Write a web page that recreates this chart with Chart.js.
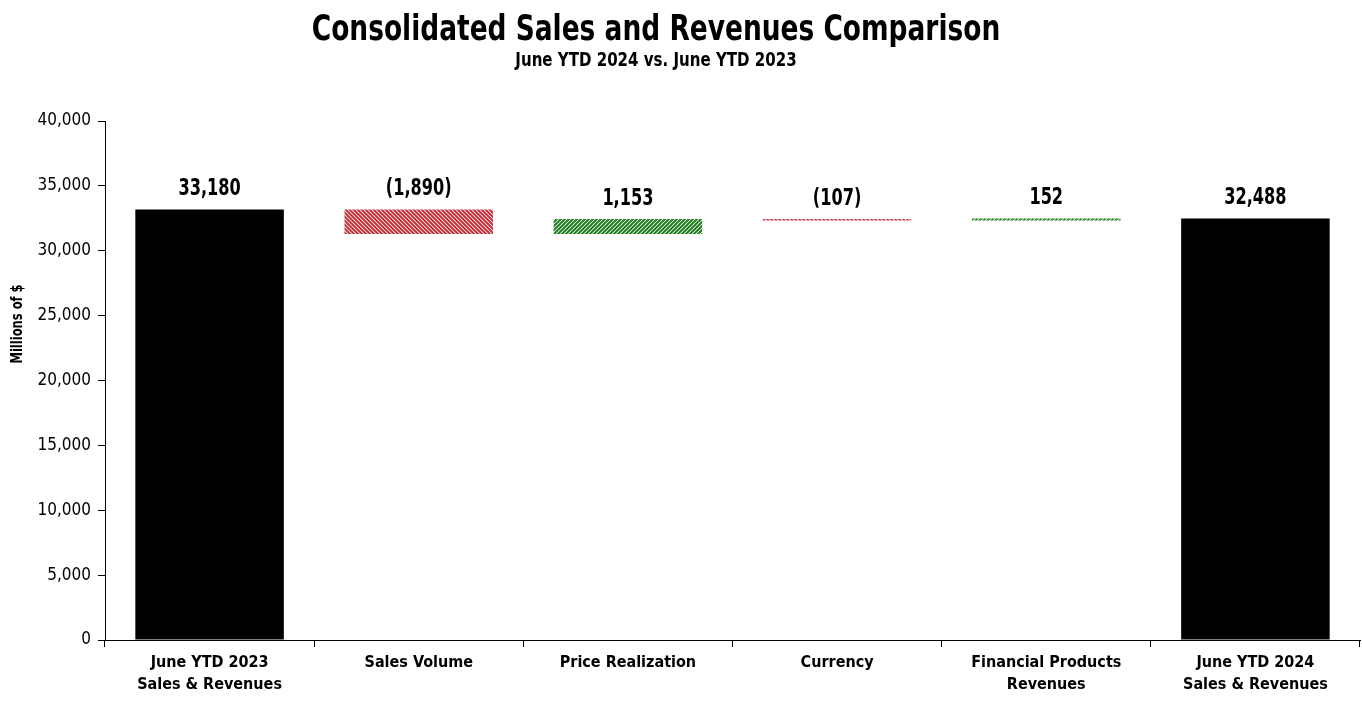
<!DOCTYPE html>
<html>
<head>
<meta charset="utf-8">
<script src="https://cdn.jsdelivr.net/npm/chart.js@4.4.1/dist/chart.umd.min.js"></script>
<style>
  html, body { margin: 0; padding: 0; background: #fff; }
  #wrap { width: 1362px; height: 716px; }
</style>
</head>
<body>
<div id="wrap"><canvas id="chart" width="1362" height="716"></canvas></div>
<script>
const categories = [
    ['June YTD 2023', 'Sales & Revenues'],
    'Sales Volume',
    'Price Realization',
    'Currency',
    ['Financial Products', 'Revenues'],
    ['June YTD 2024', 'Sales & Revenues']
];
// change of each step; first and last are totals
const changes = [33180, -1890, 1153, -107, 152, 32488];
const isTotal = [true, false, false, false, false, true];
const valueLabels = ['33,180', '(1,890)', '1,153', '(107)', '152', '32,488'];
const yTicks = [0, 5000, 10000, 15000, 20000, 25000, 30000, 35000, 40000];

const FONT = "'Liberation Sans Narrow', 'Arial Narrow', 'DejaVu Sans Condensed', sans-serif";

// floating bar ranges built from the running total
const ranges = [];
let running = 0;
changes.forEach((c, i) => {
    if (isTotal[i]) {
        ranges.push([0, c]);
        running = c;
    } else {
        ranges.push([running, running + c]);
        running += c;
    }
});

function hatch(color, down) {
    const size = 4;
    const c = document.createElement('canvas');
    c.width = size; c.height = size;
    const g = c.getContext('2d');
    g.fillStyle = '#fff';
    g.fillRect(0, 0, size, size);
    g.strokeStyle = color;
    g.lineWidth = 2;
    g.beginPath();
    if (down) {
        g.moveTo(-1, -1); g.lineTo(size + 1, size + 1);
        g.moveTo(-1, size - 1); g.lineTo(1, size + 1);
        g.moveTo(size - 1, -1); g.lineTo(size + 1, 1);
    } else {
        g.moveTo(-1, size + 1); g.lineTo(size + 1, -1);
        g.moveTo(-1, 1); g.lineTo(1, -1);
        g.moveTo(size - 1, size + 1); g.lineTo(size + 1, size - 1);
    }
    g.stroke();
    return g.createPattern(c, 'repeat');
}

// draw text squeezed horizontally (narrow face look)
function narrowText(c, text, x, y, sx) {
    c.save();
    c.translate(x, y);
    c.scale(sx, 1);
    c.fillText(text, 0, 0);
    c.restore();
}

const ctx = document.getElementById('chart').getContext('2d');
const redHatch = hatch('#c8303a', true);
const greenHatch = hatch('#1e7d1e', false);
const colors = changes.map((c, i) => isTotal[i] ? '#000' : (c < 0 ? redHatch : greenHatch));

const labelsPlugin = {
    id: 'valueLabels',
    afterDatasetsDraw(chart) {
        const c = chart.ctx;
        const meta = chart.getDatasetMeta(0);
        c.save();
        c.fillStyle = '#000';
        c.font = 'bold 23px ' + FONT;
        c.textAlign = 'center';
        c.textBaseline = 'bottom';
        meta.data.forEach((bar, i) => {
            const top = Math.min(bar.y, bar.base);
            narrowText(c, valueLabels[i], bar.x, top - 9, 0.78);
        });
        c.restore();
    }
};

const titlesPlugin = {
    id: 'titles',
    afterDraw(chart) {
        const c = chart.ctx;
        c.save();
        c.fillStyle = '#000';
        c.textAlign = 'center';
        c.textBaseline = 'middle';
        c.font = 'bold 35px ' + FONT;
        narrowText(c, 'Consolidated Sales and Revenues Comparison', 656, 31, 0.84);
        c.font = 'bold 19px ' + FONT;
        narrowText(c, 'June YTD 2024 vs. June YTD 2023', 656, 61, 0.88);
        c.translate(18, 324);
        c.rotate(-Math.PI / 2);
        c.font = 'bold 16px ' + FONT;
        narrowText(c, 'Millions of $', 0, 0, 0.8);
        c.restore();
    }
};

new Chart(ctx, {
    type: 'bar',
    data: {
        labels: categories,
        datasets: [{
            data: ranges,
            backgroundColor: colors,
            borderWidth: 0,
            barPercentage: 0.71,
            categoryPercentage: 1.0
        }]
    },
    options: {
        responsive: false,
        animation: false,
        layout: { padding: { top: 121, right: 2, left: 0, bottom: 0 } },
        plugins: {
            legend: { display: false },
            tooltip: { enabled: false },
            title: { display: false }
        },
        scales: {
            x: {
                offset: true,
                grid: {
                    offset: true,
                    drawOnChartArea: false,
                    drawTicks: true,
                    tickLength: 7,
                    color: '#000'
                },
                border: { color: '#000', width: 1 },
                ticks: {
                    color: '#000',
                    font: { family: FONT, size: 16, weight: 'bold', lineHeight: 1.35 },
                    maxRotation: 0,
                    autoSkip: false,
                    padding: 5
                },
                afterFit(scale) { scale.height = 76; }
            },
            y: {
                min: 0,
                max: 40000,
                afterBuildTicks(scale) { scale.ticks = yTicks.map(v => ({ value: v })); },
                grid: {
                    drawOnChartArea: false,
                    drawTicks: true,
                    tickLength: 7,
                    color: '#000'
                },
                border: { color: '#000', width: 1 },
                ticks: {
                    color: '#000',
                    font: { family: FONT, size: 17 },
                    padding: 7,
                    callback: v => v.toLocaleString('en-US')
                },
                afterFit(scale) { scale.width = 105; }
            }
        }
    },
    plugins: [labelsPlugin, titlesPlugin]
});
</script>
</body>
</html>
